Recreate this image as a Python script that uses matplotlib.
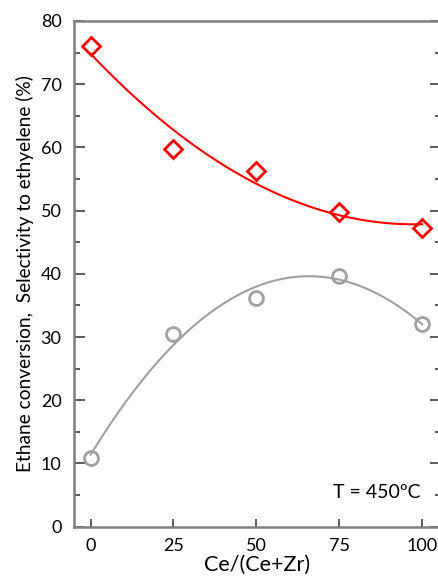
import numpy as np
import matplotlib
matplotlib.use('Agg')
import matplotlib.pyplot as plt
from matplotlib.ticker import MultipleLocator

plt.rcParams['font.family'] = ['Lato', 'DejaVu Sans']

# data
ce_frac = [0, 25, 50, 75, 100]
selectivity = [76.0, 59.7, 56.2, 49.7, 47.3]
conversion = [10.8, 30.5, 36.2, 39.7, 32.0]
xticks = [0, 25, 50, 75, 100]
yticks = [0, 10, 20, 30, 40, 50, 60, 70, 80]

fig = plt.figure(figsize=(4.38, 5.78), dpi=100)
ax = fig.add_axes([0.169, 0.0888, 0.838, 0.875])

# 2nd order trend lines (as in the original spreadsheet)
xs = np.linspace(0, 100, 200)
ps = np.polyfit(ce_frac, selectivity, 2)
pc = np.polyfit(ce_frac, conversion, 2)
ax.plot(xs, np.polyval(ps, xs), '-', color='#ff0000', lw=1.5)
ax.plot(xs, np.polyval(pc, xs), '-', color='#a0a0a0', lw=1.5)

ax.plot(ce_frac, selectivity, 'D', ms=9, mfc='none', mec='#ff0000', mew=2)
ax.plot(ce_frac, conversion, 'o', ms=10, mfc='none', mec='#a0a0a0', mew=2)

ax.set_xlim(-5, 105.7)
ax.set_ylim(0, 80)
ax.set_xticks(xticks)
ax.set_yticks(yticks)
ax.yaxis.set_minor_locator(MultipleLocator(5))

for s in ['left', 'bottom', 'top', 'right']:
    ax.spines[s].set_color('#7f7f7f')
    ax.spines[s].set_linewidth(1.8)

ax.tick_params(axis='y', which='major', direction='in', length=8, width=1.2,
               color='#404040', labelsize=13, pad=9, right=True)
ax.tick_params(axis='y', which='minor', direction='in', length=4, width=1.2,
               color='#404040', right=True)
ax.tick_params(axis='x', which='major', direction='in', length=6, width=1.2,
               color='#404040', labelsize=13, pad=8)

ax.set_xlabel('Ce/(Ce+Zr)', fontsize=15.5, labelpad=1)
ax.set_ylabel('Ethane conversion,  Selectivity to ethyelene (%)', fontsize=13.8, labelpad=5)
ax.text(0.943, 0.067, 'T = 450ºC', transform=ax.transAxes, ha='right', va='center', fontsize=14)

plt.savefig('out.png', dpi=100)
